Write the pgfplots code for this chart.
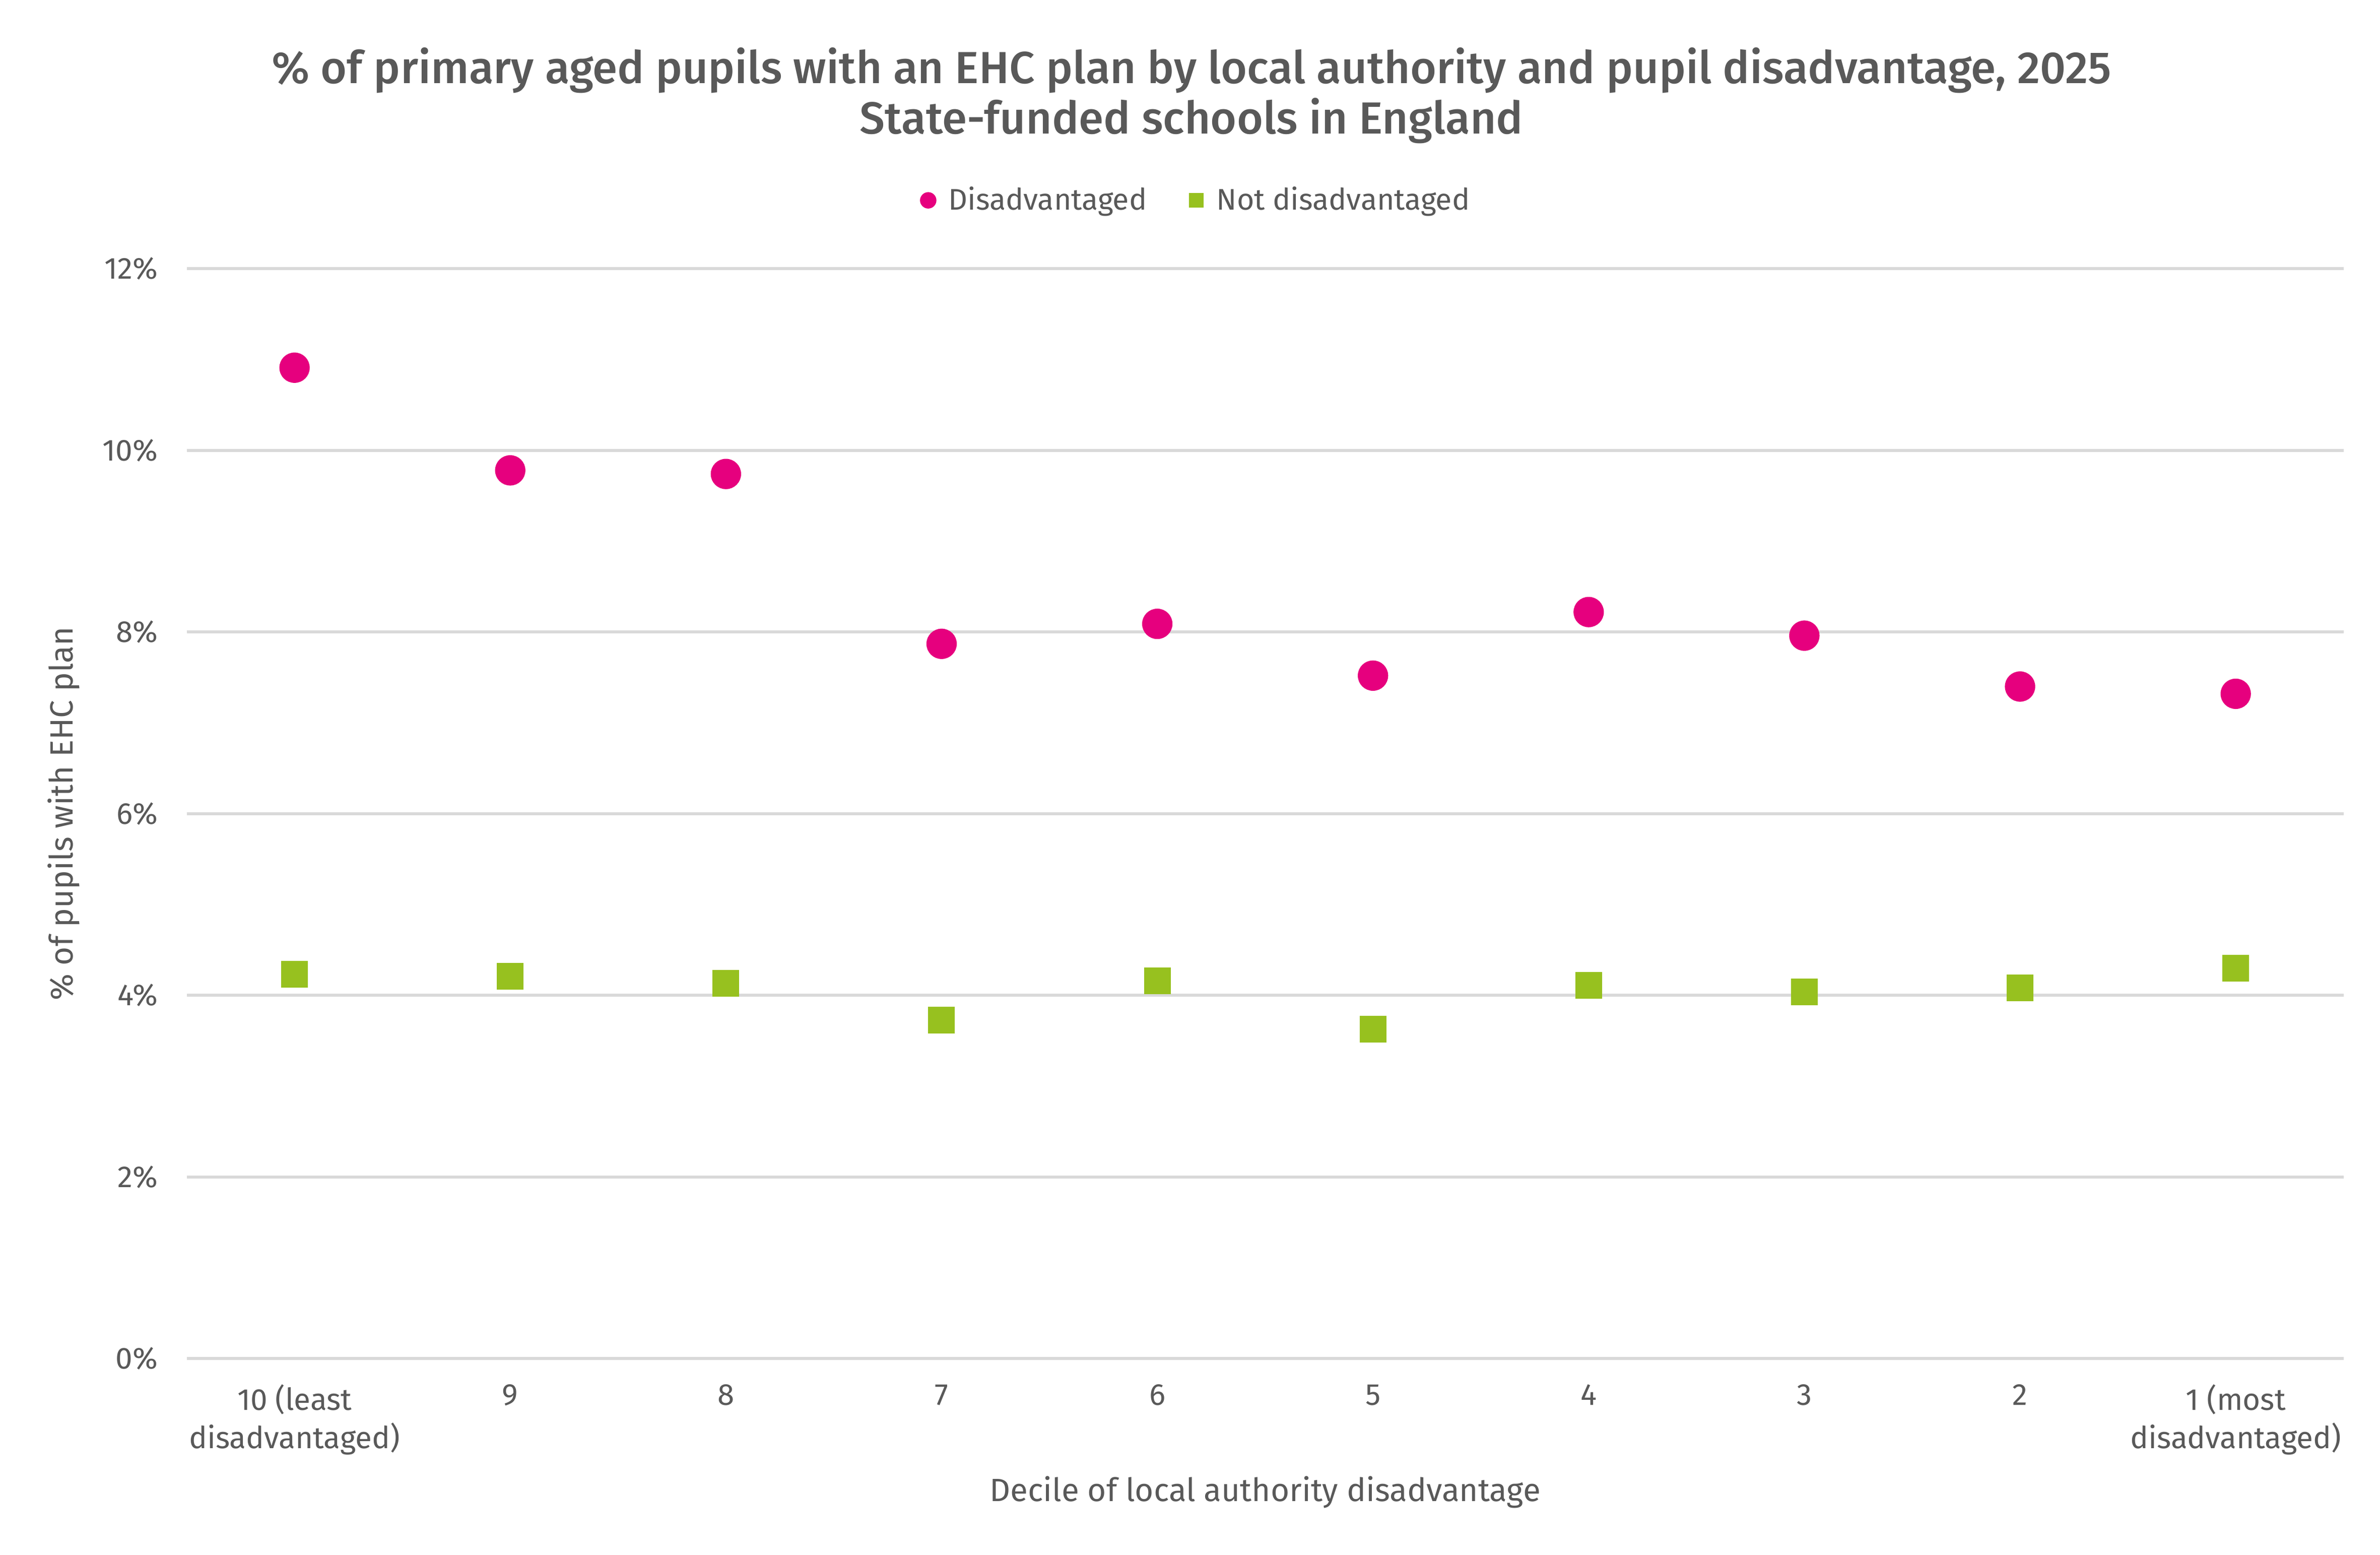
\documentclass[border=0pt]{standalone}
\usepackage{pgfplots}
\pgfplotsset{compat=1.18}
\usepackage{fontspec}
\setmainfont{Fira Sans}
\newfontfamily\titlefont{Fira Sans Medium}
\definecolor{txt}{HTML}{595959}
\definecolor{pinkc}{HTML}{E6007E}
\definecolor{limec}{HTML}{97C11F}
\definecolor{gridc}{HTML}{D9D9D9}

\pgfplotstableread{
x dis notdis
0 10.91 4.23
1 9.78 4.21
2 9.74 4.13
3 7.87 3.73
4 8.09 4.16
5 7.52 3.63
6 8.22 4.11
7 7.96 4.04
8 7.40 4.08
9 7.32 4.30
}\datatable

\begin{document}
\begin{tikzpicture}
\begin{axis}[
  scale only axis, width=710.5pt, height=359pt,
  xmin=-0.5, xmax=9.5, ymin=0, ymax=12,
  axis line style={draw=none},
  tick style={draw=none},
  xtick={0,...,9},
  xticklabels={{10 (least\\disadvantaged)},9,8,7,6,5,4,3,2,{1 (most\\disadvantaged)}},
  xticklabel style={align=center, font=\fontsize{10}{12.5}\selectfont, text=txt, yshift=-5pt},
  ytick={0,2,...,12},
  yticklabels={0\%,2\%,4\%,6\%,8\%,10\%,12\%},
  yticklabel style={font=\fontsize{10}{12}\selectfont, text=txt, xshift=-6pt},
  ymajorgrids, grid style={gridc, line width=1pt},
  xlabel={Decile of local authority disadvantage},
  xlabel style={at={(axis description cs:0.5,-0.1226)}, anchor=center, font=\fontsize{10.6}{12}\selectfont, text=txt},
  ylabel={\% of pupils with EHC plan},
  ylabel style={at={(axis description cs:-0.057,0.5)}, anchor=center, font=\fontsize{10.6}{12}\selectfont, text=txt},
  title={\% of primary aged pupils with an EHC plan by local authority and pupil disadvantage, 2025\\State-funded schools in England},
  title style={at={(axis description cs:0.4659,1.1421)}, anchor=center, align=center, font=\titlefont\fontsize{14.8}{16.5}\selectfont, text=txt},
  legend columns=2,
  legend style={at={(axis description cs:0.469,1.0627)}, anchor=center, draw=none, fill=none,
    font=\fontsize{9.8}{12}\selectfont, text=txt,
    /tikz/every even column/.append style={column sep=12pt}},
  legend image code/.code={\draw[#1] plot coordinates {(0pt,0pt)}; \path (4.5pt,0pt);},
]
\addplot[only marks, mark=*, mark size=4.8pt, color=pinkc, legend image post style={mark size=2.5pt}] table[x=x, y=dis] {\datatable};
\addlegendentry{Disadvantaged}
\addplot[only marks, mark=square*, mark size=4.2pt, color=limec, legend image post style={mark size=2.25pt}] table[x=x, y=notdis] {\datatable};
\addlegendentry{Not disadvantaged}
\end{axis}
\path[use as bounding box] ([shift={(-61.5pt,-64.5pt)}]current axis.south west) rectangle ([shift={(12pt,88.5pt)}]current axis.north east);
\end{tikzpicture}
\end{document}
